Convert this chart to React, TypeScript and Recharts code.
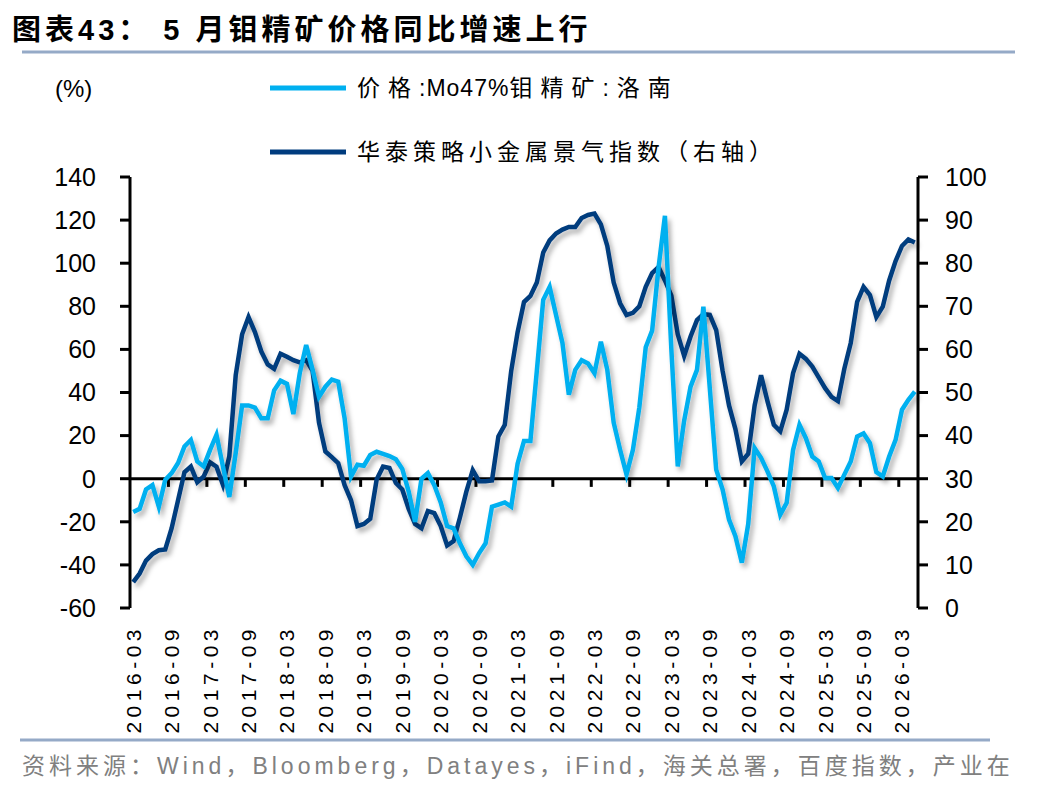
import { LineChart, Line, XAxis, YAxis, ReferenceLine } from 'recharts';

const months = [
  '2016-03', '2016-04', '2016-05', '2016-06', '2016-07', '2016-08', '2016-09', '2016-10', '2016-11', '2016-12',
  '2017-01', '2017-02', '2017-03', '2017-04', '2017-05', '2017-06', '2017-07', '2017-08', '2017-09', '2017-10', '2017-11', '2017-12',
  '2018-01', '2018-02', '2018-03', '2018-04', '2018-05', '2018-06', '2018-07', '2018-08', '2018-09', '2018-10', '2018-11', '2018-12',
  '2019-01', '2019-02', '2019-03', '2019-04', '2019-05', '2019-06', '2019-07', '2019-08', '2019-09', '2019-10', '2019-11', '2019-12',
  '2020-01', '2020-02', '2020-03', '2020-04', '2020-05', '2020-06', '2020-07', '2020-08', '2020-09', '2020-10', '2020-11', '2020-12',
  '2021-01', '2021-02', '2021-03', '2021-04', '2021-05', '2021-06', '2021-07', '2021-08', '2021-09', '2021-10', '2021-11', '2021-12',
  '2022-01', '2022-02', '2022-03', '2022-04', '2022-05', '2022-06', '2022-07', '2022-08', '2022-09', '2022-10', '2022-11', '2022-12',
  '2023-01', '2023-02', '2023-03', '2023-04', '2023-05', '2023-06', '2023-07', '2023-08', '2023-09', '2023-10', '2023-11', '2023-12',
  '2024-01', '2024-02', '2024-03', '2024-04', '2024-05', '2024-06', '2024-07', '2024-08', '2024-09', '2024-10', '2024-11', '2024-12',
  '2025-01', '2025-02', '2025-03', '2025-04', '2025-05', '2025-06', '2025-07', '2025-08', '2025-09', '2025-10', '2025-11', '2025-12',
  '2026-01', '2026-02', '2026-03', '2026-04', '2026-05',
];

// 价格:Mo47%钼精矿:洛南, yoy %
const moPriceYoY = [
  -15.5, -14, -5, -3, -13, -0.5, 2.6, 7.3, 15, 18,
  8, 5.7, 13.4, 20.4, 5.7, -8.5, 12, 34, 34, 33,
  28, 28, 41, 45.5, 44, 30, 49, 62, 50.5, 38,
  42.7, 46, 45, 28, 1, 6.5, 6, 11, 12.5, 11.5,
  10.5, 9, 4.5, -6, -20, 0, 2.6, -3, -11, -22,
  -23, -30, -36, -40, -34.5, -30, -13, -12, -11, -13,
  7, 17.5, 17.5, 50, 83, 89, 76, 63, 39, 50.5,
  55, 53.5, 49, 63.6, 50.5, 26, 13.4, 1.9, 13.4, 33,
  61, 68.7, 98, 122, 60, 5.7, 27, 42.7, 50.5, 79.8,
  42, 4.2, -5, -19, -26.7, -39, -21, 14.2, 9.7, 3.4,
  -3.6, -16.7, -11.2, 13.4, 25, 18.8, 10.3, 8, 0.3, 0.3,
  -4.3, 1.9, 8, 19.6, 21, 16.5, 3, 1, 10.3, 18,
  32, 36.6, 40.4,
];

// 华泰策略小金属景气指数 (right axis)
const metalIndex = [
  6, 8, 11, 12.5, 13.4, 13.6, 18.5, 25, 31.5, 32.8,
  29.2, 30.5, 33.8, 32.8, 28.6, 35.2, 54, 63.5, 67.5, 64,
  59.5, 56.5, 55.5, 59, 58.3, 57.5, 57, 57.5, 55, 43,
  36.3, 35, 33.6, 28.5, 25, 19, 19.5, 20.7, 29.8, 32.8,
  32.5, 29, 27.5, 23, 19.5, 18.5, 22.5, 22, 19, 14.5,
  15.5, 21, 27, 32, 29.4, 29.4, 29.6, 39.8, 42.5, 55,
  64, 71, 72.4, 75.5, 82.5, 85.3, 86.9, 87.8, 88.4, 88.4,
  90.5, 91.2, 91.5, 89, 84, 75.5, 70.7, 68, 68.5, 70,
  74.5, 77.7, 79.1, 76, 72.5, 63.5, 58.5, 63, 66.8, 68.2,
  68, 64.5, 55, 47, 41.5, 34, 35.8, 47, 54, 48,
  42.5, 41, 46, 54.5, 59, 57.8, 56, 53.5, 51, 49,
  48, 55.5, 61.5, 71, 74.5, 72.6, 67.5, 69.9, 76, 80.5,
  84, 85.5, 84.8,
];

const leftTicks = [-60, -40, -20, 0, 20, 40, 60, 80, 100, 120, 140];
const rightTicks = [0, 10, 20, 30, 40, 50, 60, 70, 80, 90, 100];
// small tick marks on the zero line, every 6 months
const markMonths = months.filter((_, i) => i > 0 && i % 6 === 0);

const data = months.map((m, i) => ({ month: m, price: moPriceYoY[i], index: metalIndex[i] }));

const LIGHT = '#00B0F0';
const DARK = '#003C7E';
const RULE = '#95AAC7';
const NUM_FONT = '"Liberation Sans", Arial, sans-serif';
const CJK_FONT = '"Liberation Sans", "Noto Sans CJK SC", sans-serif';
const HALF = 788 / months.length / 2;

function MonthTick({ x, y, payload }: any) {
  return (
    <text
      x={x}
      y={y}
      transform={`rotate(-90 ${x} ${y})`}
      textAnchor="end"
      dominantBaseline="central"
      fontSize={21}
      letterSpacing={4.5}
      fontFamily={NUM_FONT}
      fill="#000"
    >
      {payload.value}
    </text>
  );
}

const TickMark = (p: any) => (
  <line x1={p.x1 - HALF} y1={p.y1} x2={p.x2 - HALF} y2={p.y2} stroke="#000" strokeWidth={3} />
);

export default function App() {
  const axisTick = { fill: '#000', fontSize: 25, fontFamily: NUM_FONT };
  return (
    <div style={{ position: 'absolute', left: 0, top: 0, width: 1048, height: 792, background: '#fff' }}>
      <LineChart
        width={1048}
        height={792}
        data={data}
        margin={{ top: 177, right: 60, bottom: 64, left: 60 }}
      >
        <defs>
          <filter id="lineShadow" x="-5%" y="-10%" width="115%" height="130%">
            <feDropShadow dx="3" dy="4" stdDeviation="2.5" floodColor="#000" floodOpacity="0.32" />
          </filter>
        </defs>
        <XAxis
          dataKey="month"
          interval={5}
          height={120}
          padding={{ left: HALF, right: HALF }}
          axisLine={false}
          tickLine={false}
          tickSize={0}
          tickMargin={17}
          tick={<MonthTick />}
        />
        <YAxis
          yAxisId="left"
          domain={[-60, 140]}
          ticks={leftTicks}
          width={70}
          tick={axisTick}
          tickSize={10}
          tickMargin={24}
          axisLine={{ stroke: '#000', strokeWidth: 3 }}
          tickLine={{ stroke: '#000', strokeWidth: 3 }}
        />
        <YAxis
          yAxisId="right"
          orientation="right"
          domain={[0, 100]}
          ticks={rightTicks}
          width={70}
          tick={{ ...axisTick, textAnchor: 'start' }}
          tickSize={10}
          tickMargin={17}
          axisLine={{ stroke: '#000', strokeWidth: 3 }}
          tickLine={{ stroke: '#000', strokeWidth: 3 }}
        />
        <ReferenceLine yAxisId="left" y={0} stroke="#000" strokeWidth={3} />
        {markMonths.map((m) => (
          <ReferenceLine
            key={m}
            yAxisId="left"
            segment={[{ x: m, y: 0 }, { x: m, y: -3.8 }]}
            shape={TickMark}
          />
        ))}
        <Line
          yAxisId="right"
          dataKey="index"
          stroke={DARK}
          strokeWidth={4.5}
          dot={false}
          type="linear"
          filter="url(#lineShadow)"
          isAnimationActive={false}
        />
        <Line
          yAxisId="left"
          dataKey="price"
          stroke={LIGHT}
          strokeWidth={4.5}
          dot={false}
          type="linear"
          filter="url(#lineShadow)"
          isAnimationActive={false}
        />
      </LineChart>

      <svg width={1048} height={792} style={{ position: 'absolute', left: 0, top: 0, pointerEvents: 'none' }}>
        <text x={12} y={30} dominantBaseline="central" fontSize={29} fontWeight="bold" letterSpacing={4}
          fontFamily={CJK_FONT} fill="#000">
          图表43：  5 月钼精矿价格同比增速上行
        </text>
        <line x1={22} y1={52} x2={1015} y2={52} stroke={RULE} strokeWidth={3} />

        <text x={55} y={88} dominantBaseline="central" fontSize={24} fontFamily={NUM_FONT} fill="#000">(%)</text>

        <line x1={270} y1={88} x2={346} y2={88} stroke={LIGHT} strokeWidth={5} />
        <text x={357} y={88} dominantBaseline="central" fontSize={23}
          fontFamily={CJK_FONT} fill="#000">
          <tspan letterSpacing={8}>价格</tspan>
          <tspan letterSpacing={1}>:Mo47%</tspan>
          <tspan letterSpacing={8}>钼精矿</tspan>
          <tspan letterSpacing={8}>:洛南</tspan>
        </text>
        <line x1={270} y1={152} x2={346} y2={152} stroke={DARK} strokeWidth={5} />
        <text x={357} y={152} dominantBaseline="central" fontSize={23} letterSpacing={5}
          fontFamily={CJK_FONT} fill="#000">华泰策略小金属景气指数（右轴）</text>

        <line x1={20} y1={740} x2={990} y2={740} stroke={RULE} strokeWidth={3} />
        <text x={22} y={766} dominantBaseline="central" fontSize={23} letterSpacing={4}
          fontFamily={CJK_FONT} fill="#808080">
          资料来源：Wind，Bloomberg，Datayes，iFind，海关总署，百度指数，产业在
        </text>
      </svg>
    </div>
  );
}
